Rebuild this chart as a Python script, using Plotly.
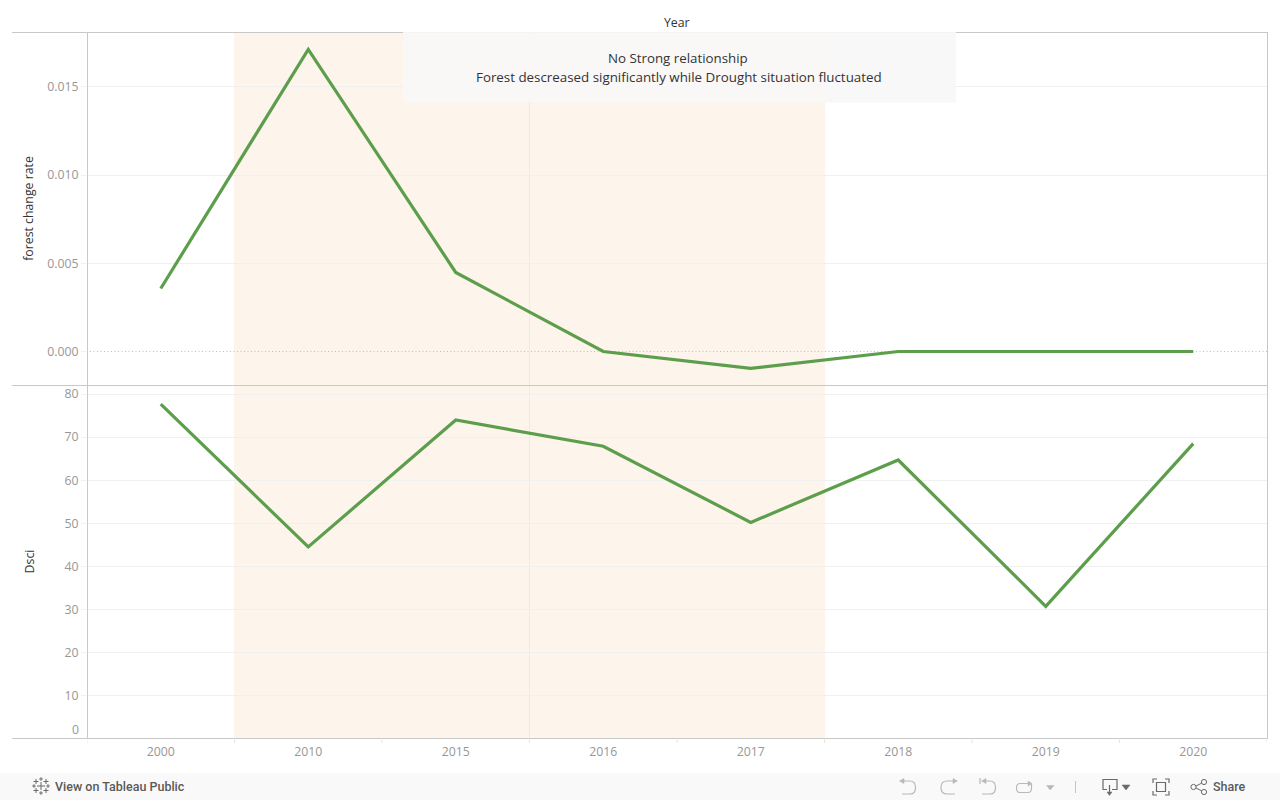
import plotly.graph_objects as go

years = ["2000", "2010", "2015", "2016", "2017", "2018", "2019", "2020"]
forest_change_rate = [0.00357, 0.01712, 0.00448, 0.0, -0.00096, 0.0, 0.0, 0.0]
dsci = [77.7, 44.5, 74.0, 67.9, 50.2, 64.7, 30.7, 68.5]
forest_ticks = [0.0, 0.005, 0.010, 0.015]
forest_tick_labels = ["0.000", "0.005", "0.010", "0.015"]
dsci_ticks = [10, 20, 30, 40, 50, 60, 70, 80]
dsci_tick_labels = ["10", "20", "30", "40", "50", "60", "70", "80"]
note_lines = ["No Strong relationship", "Forest descreased significantly while Drought situation fluctuated"]

W, H = 1280, 800
L, R, T, B = 87, 1267, 32, 738
FONT = "Open Sans"
UI_FONT = "Roboto"
GREEN = "#5c9e4b"
AXIS = "#c8c8c8"
GRID = "#f0f0f0"
TICK = "#979797"
TEXT = "#333333"
ICON = "#b8b8b8"
ICON_DARK = "#6a6a6a"


def px(x):
    return (x - L) / (R - L)


def py(y):
    return (B - y) / (B - T)


def paper_path(cmds):
    out = []
    for c in cmds:
        if isinstance(c, str):
            out.append(c)
        else:
            out.append(" ".join(f"{px(c[i]):.5f},{py(c[i + 1]):.5f}" for i in range(0, len(c), 2)))
    return " ".join(out)


def icon(cmds, color=ICON, fill=None, width=1.2):
    return dict(type="path", xref="paper", yref="paper", path=paper_path(cmds),
                line=dict(color=color, width=width),
                fillcolor=fill if fill else "rgba(0,0,0,0)", layer="above")


def hline(y, x0=12, x1=R + 1, color=AXIS, width=1, dash="solid", layer="above"):
    return dict(type="line", xref="paper", yref="paper", x0=px(x0), x1=px(x1), y0=py(y), y1=py(y),
                line=dict(color=color, width=width, dash=dash), layer=layer)


def vline(x, y0=T, y1=B, color=AXIS, width=1, layer="above"):
    return dict(type="line", xref="paper", yref="paper", x0=px(x), x1=px(x), y0=py(y0), y1=py(y1),
                line=dict(color=color, width=width), layer=layer)


shapes = [
    # highlighted band spanning 2010 .. 2017
    dict(type="rect", xref="x", yref="paper", x0=0.497, x1=4.503, y0=0, y1=1,
         fillcolor="rgba(241,169,98,0.125)", line=dict(width=0), layer="below"),
    # faint divider between 2015 and 2016
    dict(type="line", xref="x", yref="paper", x0=2.5, x1=2.5, y0=0, y1=1,
         line=dict(color="rgba(230,190,150,0.22)", width=1), layer="below"),
    # dotted zero reference on the upper pane
    dict(type="line", xref="paper", yref="y", x0=px(90), x1=1, y0=0, y1=0,
         line=dict(color="#bdbdbd", width=1, dash="1px,2.5px"), layer="below"),
    hline(32.5), hline(385.5), hline(738.5),
    vline(L + 0.5), vline(R + 0.5),
]
# category boundary ticks below the lower axis
for i in range(-1, len(years)):
    shapes.append(dict(type="line", xref="x", yref="paper", x0=i + 0.5, x1=i + 0.5,
                       y0=py(738.5), y1=py(743), line=dict(color="#e6e6e6", width=1), layer="above"))

# note box
shapes.append(dict(type="rect", xref="paper", yref="paper", x0=px(403), x1=px(956), y0=py(102.5), y1=py(32),
                   fillcolor="rgba(249,248,247,0.93)", line=dict(width=0), layer="above"))
# footer bar
shapes.append(dict(type="rect", xref="paper", yref="paper", x0=px(0), x1=px(1280), y0=py(800), y1=py(773),
                   fillcolor="#f9f9f9", line=dict(width=0), layer="above"))

# Footer icons
# undo
shapes.append(icon(["M", (902, 781), "L", (910, 781), "Q", (915.5, 781, 915.5, 787.5), "Q", (915.5, 794, 910, 794), "L", (902, 794)]))
shapes.append(icon(["M", (899.5, 781), "L", (904, 778.5), "L", (904, 783.5), "Z"], fill=ICON, width=0.5))
# redo
shapes.append(icon(["M", (955, 781), "L", (947, 781), "Q", (941, 781, 941, 787.5), "Q", (941, 794, 947, 794), "L", (955, 794)]))
shapes.append(icon(["M", (957.5, 781), "L", (953, 778.5), "L", (953, 783.5), "Z"], fill=ICON, width=0.5))
# revert
shapes.append(icon(["M", (984, 781), "L", (990, 781), "Q", (995.5, 781, 995.5, 787.5), "Q", (995.5, 794, 990, 794), "L", (982, 794)]))
shapes.append(icon(["M", (981.5, 781), "L", (986, 778.5), "L", (986, 783.5), "Z"], fill=ICON, width=0.5))
shapes.append(icon(["M", (980, 778), "L", (980, 784)]))
# refresh
shapes.append(icon(["M", (1029, 783.5), "L", (1020, 783.5), "Q", (1016.5, 783.5, 1016.5, 788), "Q", (1016.5, 792.5, 1020, 792.5),
                    "L", (1028, 792.5), "Q", (1031.5, 792.5, 1031.5, 788), "L", (1031.5, 784)]))
shapes.append(icon(["M", (1032, 783.5), "L", (1028, 781), "L", (1028, 786), "Z"], fill=ICON, width=0.5))
shapes.append(icon(["M", (1046.5, 785.5), "L", (1054, 785.5), "L", (1050.2, 790), "Z"], fill=ICON, width=0.5))
shapes.append(vline(1075.5, 781, 793, color="#c4c4c4"))
# download
shapes.append(icon(["M", (1107, 789.5), "L", (1103, 789.5), "L", (1103, 779.5), "L", (1117, 779.5), "L", (1117, 789.5), "L", (1112, 789.5)], color=ICON_DARK))
shapes.append(icon(["M", (1109.5, 785), "L", (1109.5, 793)], color=ICON_DARK))
shapes.append(icon(["M", (1107, 792), "L", (1112, 792), "L", (1109.5, 795.5), "Z"], color=ICON_DARK, fill=ICON_DARK, width=0.5))
shapes.append(icon(["M", (1122, 785), "L", (1130, 785), "L", (1126, 790), "Z"], color=ICON_DARK, fill=ICON_DARK, width=0.5))
# fullscreen
for cmds in (
    ["M", (1153, 783), "L", (1153, 779), "L", (1157, 779)],
    ["M", (1165, 779), "L", (1169, 779), "L", (1169, 783)],
    ["M", (1153, 791), "L", (1153, 795), "L", (1157, 795)],
    ["M", (1165, 795), "L", (1169, 795), "L", (1169, 791)],
    ["M", (1156.5, 782.5), "L", (1165.5, 782.5), "L", (1165.5, 791.5), "L", (1156.5, 791.5), "Z"],
):
    shapes.append(icon(cmds, color=ICON_DARK))
# share
for cx, cy in ((1193.5, 787), (1204, 782), (1204, 792)):
    shapes.append(dict(type="circle", xref="paper", yref="paper", x0=px(cx - 2.6), x1=px(cx + 2.6),
                       y0=py(cy + 2.6), y1=py(cy - 2.6), line=dict(color=ICON_DARK, width=1),
                       fillcolor="rgba(0,0,0,0)", layer="above"))
shapes.append(icon(["M", (1196, 786), "L", (1201.6, 783.2)], color=ICON_DARK, width=1))
shapes.append(icon(["M", (1196, 788), "L", (1201.6, 790.8)], color=ICON_DARK, width=1))
# logo
for cx, cy, arm in ((41, 786, 4), (36, 781.5, 2.5), (46, 781.5, 2.5), (36, 790.5, 2.5), (46, 790.5, 2.5),
                    (41, 779, 1.8), (41, 793, 1.8), (34, 786, 1.8), (48, 786, 1.8)):
    shapes.append(icon(["M", (cx - arm, cy), "L", (cx + arm, cy), "M", (cx, cy - arm), "L", (cx, cy + arm)],
                       color=ICON_DARK, width=1))


def label(text, x, y, size, color, family=FONT, xanchor="center", **font_extra):
    return dict(text=text, xref="paper", yref="paper", x=px(x), y=py(y), xanchor=xanchor, yanchor="middle",
                showarrow=False, font=dict(family=family, size=size, color=color, **font_extra))


annotations = [
    label("Year", 677, 22.5, 12.3, TEXT),
    label("0", 80.5, 729.7, 12.3, TICK, xanchor="right"),
    label(note_lines[0], 677.5, 57.8, 13.3, TEXT),
    label(note_lines[1], 678.5, 76.8, 13.35, TEXT),
    label("View on Tableau Public", 52.5, 786.7, 12.5, "#5a5a5a", family=UI_FONT, xanchor="left", weight=500),
    label("Share", 1210.5, 786.7, 12.5, "#5a5a5a", family=UI_FONT, xanchor="left", weight=500),
]

fig = go.Figure()
fig.add_trace(go.Scatter(x=years, y=forest_change_rate, mode="lines", xaxis="x", yaxis="y",
                         line=dict(color=GREEN, width=3.2), name="forest change rate"))
fig.add_trace(go.Scatter(x=years, y=dsci, mode="lines", xaxis="x", yaxis="y2",
                         line=dict(color=GREEN, width=3.2), name="Dsci"))

fig.update_layout(
    width=W, height=H, autosize=False,
    margin=dict(l=L, r=W - R, t=T, b=H - B, pad=0),
    paper_bgcolor="white", plot_bgcolor="white",
    showlegend=False,
    font=dict(family=FONT, size=12, color=TICK),
    shapes=shapes,
    annotations=annotations,
    xaxis=dict(type="category", categoryorder="array", categoryarray=years, range=[-0.5, 7.5],
               domain=[0, 1], anchor="y2", showgrid=False, zeroline=False, showline=False,
               ticks="outside", ticklen=2, tickcolor="rgba(0,0,0,0)",
               tickfont=dict(family=FONT, size=12.3, color=TICK)),
    yaxis=dict(domain=[0.5, 1], range=[-0.00190, 0.01811], anchor="x",
               tickvals=forest_ticks, ticktext=forest_tick_labels,
               showgrid=True, gridcolor=GRID, gridwidth=1,
               zeroline=True, zerolinecolor="rgba(0,0,0,0)", showline=False,
               ticks="outside", ticklen=5, tickcolor=GRID, tickfont=dict(family=FONT, size=12.3, color=TICK),
               title=dict(text="forest change rate", standoff=10, font=dict(family=FONT, size=12.3, color=TEXT))),
    yaxis2=dict(domain=[0, 0.5], range=[0.12, 82.12], anchor="x",
                tickvals=dsci_ticks, ticktext=dsci_tick_labels,
                showgrid=True, gridcolor=GRID, gridwidth=1, zeroline=False, showline=False,
                ticks="outside", ticklen=5, tickcolor=GRID, tickfont=dict(family=FONT, size=12.3, color=TICK),
                title=dict(text="Dsci", standoff=27, font=dict(family=FONT, size=12.3, color=TEXT))),
)

fig.write_html("out.html", config=dict(displayModeBar=False),
               post_script="document.body.style.margin='0';document.documentElement.style.overflow='hidden';")
